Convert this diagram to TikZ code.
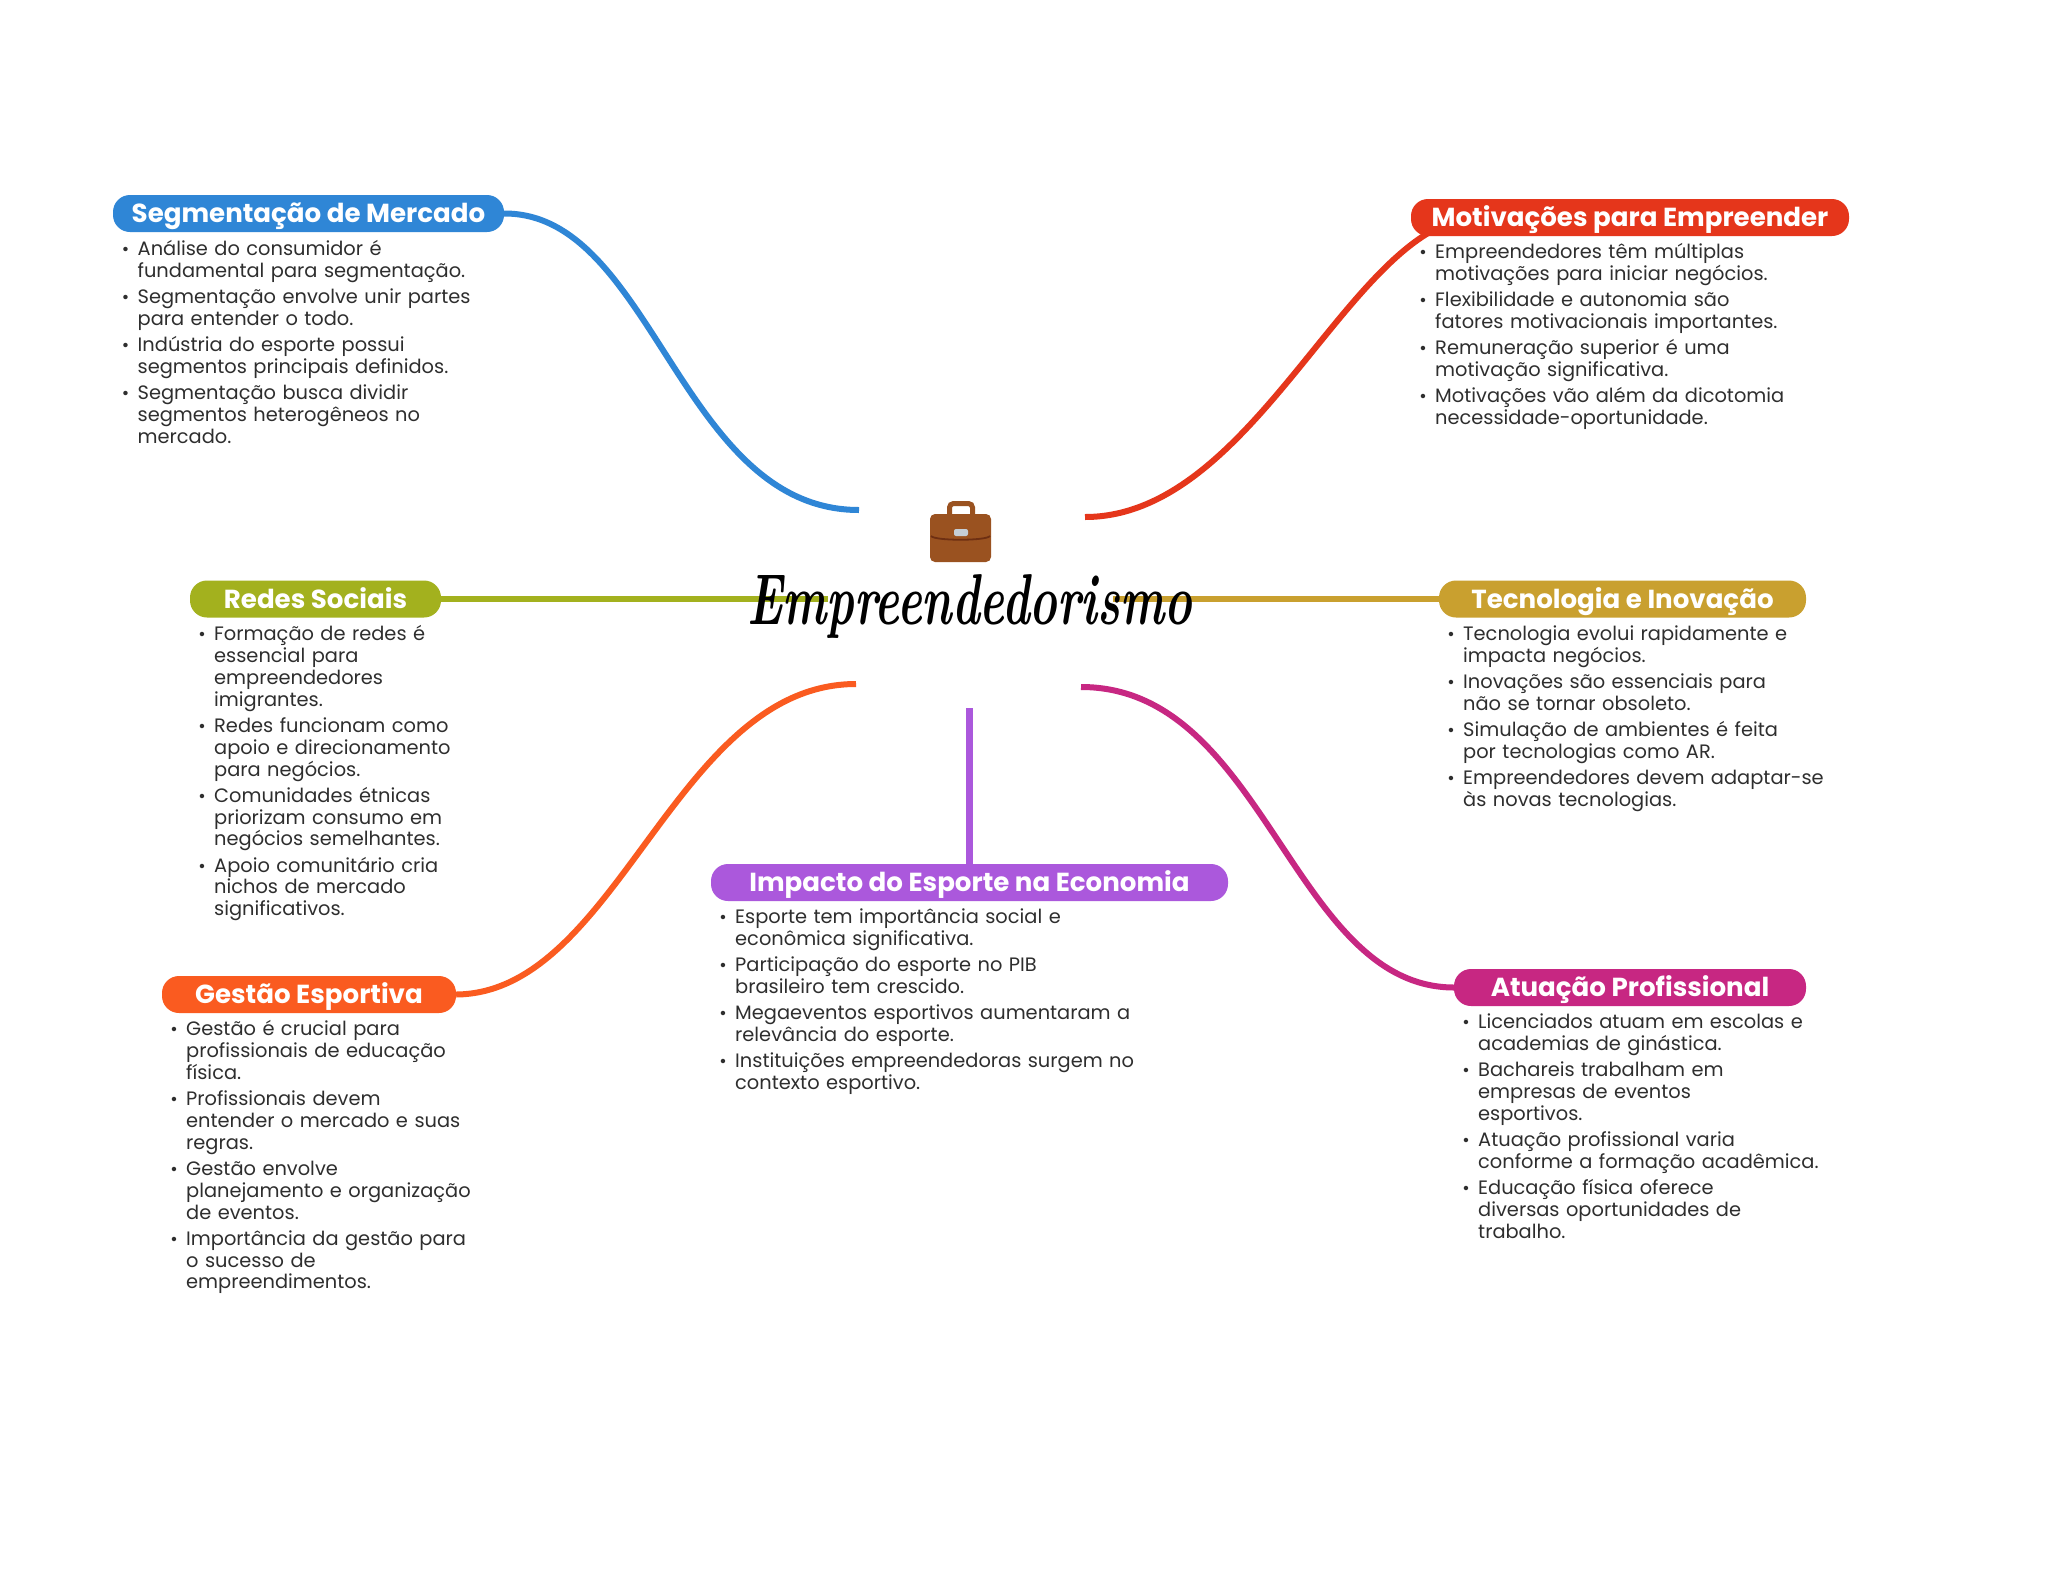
\documentclass[tikz,border=0pt]{standalone}
\usepackage{fontspec}
\usepackage{graphicx}
\usetikzlibrary{backgrounds}
\setmainfont{Poppins}
\newfontfamily\hubfont{Latin Modern Roman}
\definecolor{cblue}{HTML}{2F86D6}
\definecolor{cred}{HTML}{E5361B}
\definecolor{cgreen}{HTML}{A3B11E}
\definecolor{cmust}{HTML}{C9A02F}
\definecolor{cpurp}{HTML}{AB58DC}
\definecolor{corange}{HTML}{FA5B20}
\definecolor{cmag}{HTML}{C72782}
\definecolor{ctext}{HTML}{2E2E2E}
\definecolor{cbrown}{HTML}{9A5220}
\definecolor{cdark}{HTML}{6E2F12}
\definecolor{cclasp}{HTML}{C5CED6}
\newcommand{\itm}[1]{\par\parskip=0pt\lineskiplimit=-100pt\lineskip=0pt\vskip4.4pt\noindent\rule{0pt}{20pt}\llap{{\fontsize{18}{18}\selectfont •}\hspace{8.5pt}}#1\par}
\tikzset{
  x=1pt,y=-1pt,
  pill/.style={fill=#1,rounded corners=17pt,text=white,inner sep=0pt,
    font=\fontsize{26.1}{30}\selectfont\bfseries,minimum height=37pt,text height=24pt,text depth=5.6pt},
  bulletlist/.style={anchor=north west,inner sep=0pt,text width=480pt,align=left,text=ctext,
    font=\fontsize{19.4}{21.8}\selectfont},
  link/.style={line width=#1,line cap=butt},
  link/.default=6pt
}
\begin{document}
\begin{tikzpicture}
\useasboundingbox (0,0) rectangle (2048,1569);
% hub
\node[inner sep=0pt,text=black] (hub) at (969.5,606) {\resizebox*{445pt}{64pt}{\hubfont\bfseries\itshape Empreendedorismo}};
% free ends of connectors at the hub
\coordinate (hubSeg) at (859,510);
\coordinate (hubMot) at (1085,517);
\coordinate (hubRed) at (828,599);
\coordinate (hubTec) at (1113,599);
\coordinate (hubGes) at (856,684);
\coordinate (hubAtu) at (1081,687);
\coordinate (hubImp) at (969.5,708);
\coordinate (motEnd) at (1480,217);
% pills
\node[pill=cblue,minimum width=391pt] (seg) at (308.5,213.5) {Segmentação de Mercado};
\node[pill=cred,minimum width=438pt] (mot) at (1630,217.5) {Motivações para Empreender};
\node[pill=cgreen,minimum width=251pt] (red) at (315.5,599) {Redes Sociais};
\node[pill=cmust,minimum width=367pt] (tec) at (1622.5,599) {Tecnologia e Inovação};
\node[pill=cpurp,minimum width=517pt] (imp) at (969.5,882.5) {Impacto do Esporte na Economia};
\node[pill=corange,minimum width=294pt] (ges) at (309,994.5) {Gestão Esportiva};
\node[pill=cmag,minimum width=352pt] (atu) at (1630,987.5) {Atuação Profissional};
% connectors
\begin{pgfonlayer}{background}
\fill[white] (0,0) rectangle (2048,1569);
\draw[link,cblue] (seg.east) .. controls (653,213) and (680,510) .. (hubSeg);
\draw[link,cred] (hubMot) .. controls (1258,517) and (1353,217) .. (motEnd);
\draw[link=6.5pt,cgreen] (red.east) -- (hubRed);
\draw[link=6.5pt,cmust] (hubTec) -- (tec.west);
\draw[link,corange] (ges.east) .. controls (618,993) and (675,684) .. (hubGes);
\draw[link,cmag] (hubAtu) .. controls (1265,687) and (1292,987) .. (atu.west);
\draw[link=6.5pt,cpurp] (hubImp) -- (imp.north);
\end{pgfonlayer}
% briefcase
\draw[line width=5pt,cbrown,rounded corners=4pt] (949.5,518) -- (949.5,503.5) -- (972.5,503.5) -- (972.5,518);
\fill[cbrown,rounded corners=5pt] (930,514) rectangle (991,562);
\draw[line width=1.8pt,cdark] (931,536) .. controls (935,541) and (986,541) .. (990,536);
\fill[cclasp,rounded corners=2pt] (954,529) rectangle (968,536);
% lists
\node[bulletlist] (l1) at (137.5,229.5) {\itm{Análise do consumidor é\newline fundamental para segmentação.}\itm{Segmentação envolve unir partes\newline para entender o todo.}\itm{Indústria do esporte possui\newline segmentos principais definidos.}\itm{Segmentação busca dividir\newline segmentos heterogêneos no\newline mercado.}};
\node[bulletlist] (l2) at (1435,232.5) {\itm{Empreendedores têm múltiplas\newline motivações para iniciar negócios.}\itm{Flexibilidade e autonomia são\newline fatores motivacionais importantes.}\itm{Remuneração superior é uma\newline motivação significativa.}\itm{Motivações vão além da dicotomia\newline necessidade-oportunidade.}};
\node[bulletlist] (l3) at (214,614.5) {\itm{Formação de redes é\newline essencial para\newline empreendedores\newline imigrantes.}\itm{Redes funcionam como\newline apoio e direcionamento\newline para negócios.}\itm{Comunidades étnicas\newline priorizam consumo em\newline negócios semelhantes.}\itm{Apoio comunitário cria\newline nichos de mercado\newline significativos.}};
\node[bulletlist] (l4) at (1463,614.5) {\itm{Tecnologia evolui rapidamente e\newline impacta negócios.}\itm{Inovações são essenciais para\newline não se tornar obsoleto.}\itm{Simulação de ambientes é feita\newline por tecnologias como AR.}\itm{Empreendedores devem adaptar-se\newline às novas tecnologias.}};
\node[bulletlist] (l5) at (735,897.5) {\itm{Esporte tem importância social e\newline econômica significativa.}\itm{Participação do esporte no PIB\newline brasileiro tem crescido.}\itm{Megaeventos esportivos aumentaram a\newline relevância do esporte.}\itm{Instituições empreendedoras surgem no\newline contexto esportivo.}};
\node[bulletlist] (l6) at (186,1009.5) {\itm{Gestão é crucial para\newline profissionais de educação\newline física.}\itm{Profissionais devem\newline entender o mercado e suas\newline regras.}\itm{Gestão envolve\newline planejamento e organização\newline de eventos.}\itm{Importância da gestão para\newline o sucesso de\newline empreendimentos.}};
\node[bulletlist] (l7) at (1478,1002.5) {\itm{Licenciados atuam em escolas e\newline academias de ginástica.}\itm{Bachareis trabalham em\newline empresas de eventos\newline esportivos.}\itm{Atuação profissional varia\newline conforme a formação acadêmica.}\itm{Educação física oferece\newline diversas oportunidades de\newline trabalho.}};
\end{tikzpicture}
\end{document}
